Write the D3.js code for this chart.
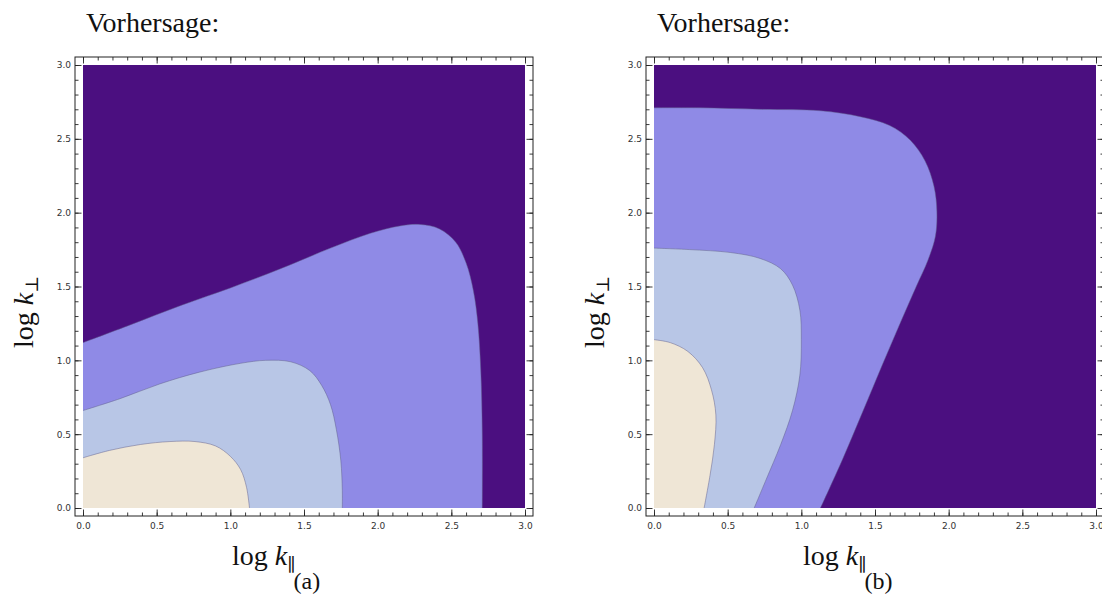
<!DOCTYPE html>
<html>
<head>
<meta charset="utf-8">
<script src="https://cdn.jsdelivr.net/npm/d3@7"></script>
<style>
  html, body { margin: 0; padding: 0; background: #fff; }
</style>
</head>
<body>
<div id="chart"></div>
<script>
// contour levels, outermost first
const levelColors = ["#4b0f80", "#8f8ae6", "#b8c6e6", "#efe6d6"];
const majorTicks = [0, 0.5, 1.0, 1.5, 2.0, 2.5, 3.0];
const panelTags = ["(a)", "(b)"];
const titleText = "Vorhersage:";

// boundary curves, [log k_par, log k_perp]
const edgesA1 = [[0, 1.12], [0.32, 1.24], [0.66, 1.37], [1.0, 1.49], [1.34, 1.62], [1.68, 1.76],
  [1.95, 1.86], [2.15, 1.91], [2.29, 1.92], [2.42, 1.89], [2.53, 1.8], [2.6, 1.66],
  [2.65, 1.47], [2.68, 1.25], [2.7, 0.93], [2.71, 0.5], [2.71, 0]];
const edgesA2 = [[0, 0.66], [0.25, 0.74], [0.52, 0.84], [0.79, 0.92], [1.07, 0.98], [1.24, 1.0],
  [1.41, 0.99], [1.54, 0.93], [1.62, 0.83], [1.68, 0.7], [1.72, 0.53], [1.75, 0.32], [1.76, 0.12], [1.76, 0]];
const edgesA3 = [[0, 0.34], [0.18, 0.39], [0.39, 0.43], [0.59, 0.45], [0.76, 0.45], [0.9, 0.42],
  [1.0, 0.35], [1.07, 0.26], [1.11, 0.14], [1.13, 0]];

const edgesB1 = [[0, 2.71], [0.31, 2.71], [0.72, 2.7], [1.13, 2.69], [1.4, 2.65], [1.6, 2.59],
  [1.74, 2.49], [1.84, 2.35], [1.9, 2.18], [1.92, 2.01], [1.91, 1.84], [1.86, 1.68], [1.78, 1.5],
  [1.67, 1.25], [1.55, 0.97], [1.42, 0.66], [1.28, 0.33], [1.13, 0]];
const edgesB2 = [[0, 1.76], [0.24, 1.75], [0.52, 1.73], [0.72, 1.69], [0.86, 1.62], [0.94, 1.51],
  [0.99, 1.34], [1.0, 1.14], [0.99, 0.9], [0.94, 0.66], [0.86, 0.43], [0.76, 0.19], [0.68, 0]];
const edgesB3 = [[0, 1.14], [0.11, 1.12], [0.23, 1.06], [0.33, 0.95], [0.39, 0.8], [0.42, 0.63],
  [0.41, 0.43], [0.38, 0.22], [0.34, 0]];

class ContourPanel {
  constructor(svg, left, edges, tag) {
    this.svg = svg;
    this.left = left;
    this.top = 65;
    this.size = { x: 442, y: 443 };
    this.pad = 8;
    this.edges = edges;
    this.tag = tag;

    this.g = svg.append("g");
    this.setScales();
    this.drawRegions();
    this.drawFrame();
    this.drawLabels();
  }

  setScales() {
    this.x = d3.scaleLinear().domain([0, 3]).range([this.left, this.left + this.size.x]);
    this.y = d3.scaleLinear().domain([0, 3]).range([this.top + this.size.y, this.top]);
  }

  drawRegions() {
    const line = d3.line()
      .x((d) => this.x(d[0]))
      .y((d) => this.y(d[1]))
      .curve(d3.curveCatmullRom.alpha(0.5));

    this.g.append("rect")
      .attr("x", this.x(0))
      .attr("y", this.y(3))
      .attr("width", this.x(3) - this.x(0))
      .attr("height", this.y(0) - this.y(3))
      .attr("fill", levelColors[0]);

    this.edges.forEach((pts, i) => {
      this.g.append("path")
        .attr("d", line(pts) + `L${this.x(0)},${this.y(0)}Z`)
        .attr("fill", levelColors[i + 1]);
      this.g.append("path")
        .attr("d", line(pts))
        .attr("fill", "none")
        .attr("stroke", "#5e5c88")
        .attr("stroke-opacity", 0.6)
        .attr("stroke-width", 0.8);
    });
  }

  drawFrame() {
    const p = this.pad;
    const fx0 = this.x(0) - p, fx1 = this.x(3) + p;
    const fy0 = this.y(3) - p, fy1 = this.y(0) + p;
    const minor = this.x.ticks(30);

    const axes = [
      [d3.axisBottom, `translate(0,${fy1})`, this.x, true],
      [d3.axisTop, `translate(0,${fy0})`, this.x, false],
      [d3.axisLeft, `translate(${fx0},0)`, this.y, true],
      [d3.axisRight, `translate(${fx1},0)`, this.y, false],
    ];

    axes.forEach(([axisFn, tr, scale, labelled], k) => {
      const minorG = this.g.append("g").attr("transform", tr)
        .call(axisFn(scale).tickValues(minor).tickSize(-3.5).tickFormat(""));
      const majorG = this.g.append("g").attr("transform", tr)
        .call(axisFn(scale).tickValues(majorTicks).tickSize(-6.5).tickPadding(k === 0 ? 7 : 4)
          .tickFormat(labelled ? d3.format(".1f") : ""));
      [minorG, majorG].forEach((ax) => {
        ax.select(".domain").remove();
        ax.selectAll("line").attr("stroke", "#222").attr("stroke-width", 0.9);
        ax.selectAll("text")
          .attr("font-family", "DejaVu Sans, sans-serif")
          .attr("font-size", 9)
          .attr("fill", "#333");
      });
    });

    this.g.append("rect")
      .attr("x", fx0)
      .attr("y", fy0)
      .attr("width", fx1 - fx0)
      .attr("height", fy1 - fy0)
      .attr("fill", "none")
      .attr("stroke", "#222")
      .attr("stroke-width", 1);
  }

  drawLabels() {
    const font = "Liberation Serif, serif";

    this.g.append("text")
      .attr("x", this.left + 3)
      .attr("y", 32)
      .attr("font-family", font)
      .attr("font-size", 28)
      .attr("fill", "#111")
      .text(titleText);

    // x label: log k_par with panel tag
    const xl = this.g.append("text")
      .attr("x", this.left + 149)
      .attr("y", 565)
      .attr("font-family", font)
      .attr("font-size", 28)
      .attr("fill", "#111");
    xl.append("tspan").text("log ");
    xl.append("tspan").attr("font-style", "italic").text("k");
    xl.append("tspan")
      .attr("font-family", "DejaVu Serif, serif")
      .attr("font-size", 18)
      .attr("dy", 6)
      .text("\u2225");
    xl.append("tspan").attr("font-size", 24).attr("dx", -2).attr("dy", 18).text(this.tag);

    // y label: log k_perp
    const yl = this.g.append("text")
      .attr("transform", `translate(${this.left - 50},348) rotate(-90)`)
      .attr("font-family", font)
      .attr("font-size", 28)
      .attr("fill", "#111");
    yl.append("tspan").text("log ");
    yl.append("tspan").attr("font-style", "italic").text("k");
    yl.append("tspan")
      .attr("font-family", "DejaVu Serif, serif")
      .attr("font-size", 18)
      .attr("dy", 5)
      .text("\u22a5");
  }
}

const svg = d3.select("#chart").append("svg")
  .attr("width", 1102)
  .attr("height", 595)
  .style("display", "block");

svg.append("rect").attr("width", 1102).attr("height", 595).attr("fill", "#fff");

new ContourPanel(svg, 83, [edgesA1, edgesA2, edgesA3], panelTags[0]);
new ContourPanel(svg, 654, [edgesB1, edgesB2, edgesB3], panelTags[1]);
</script>
</body>
</html>
